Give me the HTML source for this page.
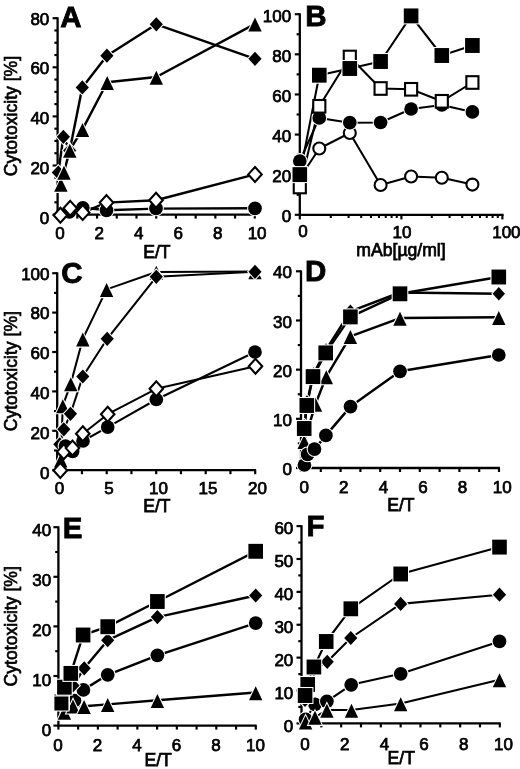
<!DOCTYPE html>
<html><head><meta charset="utf-8"><title>Cytotoxicity figure</title>
<style>
html,body{margin:0;padding:0;background:#fff;}
body{width:520px;height:769px;overflow:hidden;}
svg{display:block;filter:grayscale(1);}
text{font-family:"Liberation Sans", sans-serif;fill:#000;}
</style></head>
<body>
<svg width="520" height="769" viewBox="0 0 520 769" stroke="#000" stroke-linecap="butt">
<rect x="0" y="0" width="520" height="769" fill="#fff" stroke="none"/>
<line x1="57.6" y1="17.3" x2="57.6" y2="215.5" stroke-width="2.3"/>
<line x1="52.6" y1="214.6" x2="57.6" y2="214.6" stroke-width="2.18"/>
<line x1="54.4" y1="202.32" x2="57.6" y2="202.32" stroke-width="2.18"/>
<line x1="54.4" y1="190.05" x2="57.6" y2="190.05" stroke-width="2.18"/>
<line x1="54.4" y1="177.77" x2="57.6" y2="177.77" stroke-width="2.18"/>
<line x1="52.6" y1="165.5" x2="57.6" y2="165.5" stroke-width="2.18"/>
<line x1="54.4" y1="153.22" x2="57.6" y2="153.22" stroke-width="2.18"/>
<line x1="54.4" y1="140.95" x2="57.6" y2="140.95" stroke-width="2.18"/>
<line x1="54.4" y1="128.68" x2="57.6" y2="128.68" stroke-width="2.18"/>
<line x1="52.6" y1="116.4" x2="57.6" y2="116.4" stroke-width="2.18"/>
<line x1="54.4" y1="104.12" x2="57.6" y2="104.12" stroke-width="2.18"/>
<line x1="54.4" y1="91.85" x2="57.6" y2="91.85" stroke-width="2.18"/>
<line x1="54.4" y1="79.57" x2="57.6" y2="79.57" stroke-width="2.18"/>
<line x1="52.6" y1="67.3" x2="57.6" y2="67.3" stroke-width="2.18"/>
<line x1="54.4" y1="55.02" x2="57.6" y2="55.02" stroke-width="2.18"/>
<line x1="54.4" y1="42.75" x2="57.6" y2="42.75" stroke-width="2.18"/>
<line x1="54.4" y1="30.47" x2="57.6" y2="30.47" stroke-width="2.18"/>
<line x1="52.6" y1="18.2" x2="57.6" y2="18.2" stroke-width="2.18"/>
<text x="49.3" y="224" font-size="17" font-weight="normal" text-anchor="end" stroke="#000" stroke-width="0.75">0</text>
<text x="49.3" y="174.12" font-size="17" font-weight="normal" text-anchor="end" stroke="#000" stroke-width="0.75">20</text>
<text x="49.3" y="124.25" font-size="17" font-weight="normal" text-anchor="end" stroke="#000" stroke-width="0.75">40</text>
<text x="49.3" y="74.38" font-size="17" font-weight="normal" text-anchor="end" stroke="#000" stroke-width="0.75">60</text>
<text x="49.3" y="24.5" font-size="17" font-weight="normal" text-anchor="end" stroke="#000" stroke-width="0.75">80</text>
<line x1="56.7" y1="214.6" x2="255.7" y2="214.6" stroke-width="2.3"/>
<line x1="57.6" y1="214.6" x2="57.6" y2="218.6" stroke-width="2.18"/>
<line x1="77.32" y1="214.6" x2="77.32" y2="218.6" stroke-width="2.18"/>
<line x1="97.04" y1="214.6" x2="97.04" y2="218.6" stroke-width="2.18"/>
<line x1="116.76" y1="214.6" x2="116.76" y2="218.6" stroke-width="2.18"/>
<line x1="136.48" y1="214.6" x2="136.48" y2="218.6" stroke-width="2.18"/>
<line x1="156.2" y1="214.6" x2="156.2" y2="218.6" stroke-width="2.18"/>
<line x1="175.92" y1="214.6" x2="175.92" y2="218.6" stroke-width="2.18"/>
<line x1="195.64" y1="214.6" x2="195.64" y2="218.6" stroke-width="2.18"/>
<line x1="215.36" y1="214.6" x2="215.36" y2="218.6" stroke-width="2.18"/>
<line x1="235.08" y1="214.6" x2="235.08" y2="218.6" stroke-width="2.18"/>
<line x1="254.8" y1="214.6" x2="254.8" y2="218.6" stroke-width="2.18"/>
<text x="59.9" y="238.6" font-size="17" font-weight="normal" text-anchor="middle" stroke="#000" stroke-width="0.75">0</text>
<text x="99.34" y="238.6" font-size="17" font-weight="normal" text-anchor="middle" stroke="#000" stroke-width="0.75">2</text>
<text x="138.78" y="238.6" font-size="17" font-weight="normal" text-anchor="middle" stroke="#000" stroke-width="0.75">4</text>
<text x="178.22" y="238.6" font-size="17" font-weight="normal" text-anchor="middle" stroke="#000" stroke-width="0.75">6</text>
<text x="217.66" y="238.6" font-size="17" font-weight="normal" text-anchor="middle" stroke="#000" stroke-width="0.75">8</text>
<text x="257.1" y="238.6" font-size="17" font-weight="normal" text-anchor="middle" stroke="#000" stroke-width="0.75">10</text>
<text x="60.2" y="27.1" font-size="29.5" font-weight="bold" text-anchor="start" stroke="#000" stroke-width="0.8">A</text>
<text x="156.9" y="257.7" font-size="17.6" text-anchor="middle" stroke="#000" stroke-width="0.75">E/T</text>
<text transform="translate(17.4,116) rotate(-90)" x="0" y="0" font-size="17.6" text-anchor="middle" stroke="#000" stroke-width="0.65">Cytotoxicity [%]</text>
<polyline points="60.5,214 69.5,212 82.8,207.5 106.5,210.3 156,208.6 255,208.3" fill="none" stroke-width="2.45" stroke-linejoin="round"/>
<polyline points="60.4,215.2 70.2,208.3 82.7,212.6 106.5,202.6 156,200.2 255,174.4" fill="none" stroke-width="2.45" stroke-linejoin="round"/>
<polyline points="58.3,172.5 63.4,136.8 69.7,150.5 82.3,87.4 106.9,55.7 156.3,24.3 255,58.8" fill="none" stroke-width="2.45" stroke-linejoin="round"/>
<polyline points="60.9,184.15 64,171.95 69.8,150.1 82.5,129.4 107.2,82.25 156.3,77 255,23.85" fill="none" stroke-width="2.45" stroke-linejoin="round"/>
<path d="M58.3 165.4L64.9 172.5L58.3 179.6L51.7 172.5Z" fill="#000" stroke="#fff" stroke-width="2.1" paint-order="stroke" stroke-linejoin="miter"/>
<path d="M63.4 129.7L70 136.8L63.4 143.9L56.8 136.8Z" fill="#000" stroke="#fff" stroke-width="2.1" paint-order="stroke" stroke-linejoin="miter"/>
<path d="M69.7 143.4L76.3 150.5L69.7 157.6L63.1 150.5Z" fill="#000" stroke="#fff" stroke-width="2.1" paint-order="stroke" stroke-linejoin="miter"/>
<path d="M82.3 80.3L88.9 87.4L82.3 94.5L75.7 87.4Z" fill="#000" stroke="#fff" stroke-width="2.1" paint-order="stroke" stroke-linejoin="miter"/>
<path d="M106.9 48.6L113.5 55.7L106.9 62.8L100.3 55.7Z" fill="#000" stroke="#fff" stroke-width="2.1" paint-order="stroke" stroke-linejoin="miter"/>
<path d="M156.3 17.2L162.9 24.3L156.3 31.4L149.7 24.3Z" fill="#000" stroke="#fff" stroke-width="2.1" paint-order="stroke" stroke-linejoin="miter"/>
<path d="M255 51.7L261.6 58.8L255 65.9L248.4 58.8Z" fill="#000" stroke="#fff" stroke-width="2.1" paint-order="stroke" stroke-linejoin="miter"/>
<path d="M60.9 177.85L67.6 191.85L54.2 191.85Z" fill="#000" stroke="#fff" stroke-width="2.1" paint-order="stroke" stroke-linejoin="miter"/>
<path d="M64 165.65L70.7 179.65L57.3 179.65Z" fill="#000" stroke="#fff" stroke-width="2.1" paint-order="stroke" stroke-linejoin="miter"/>
<path d="M69.8 143.8L76.5 157.8L63.1 157.8Z" fill="#000" stroke="#fff" stroke-width="2.1" paint-order="stroke" stroke-linejoin="miter"/>
<path d="M82.5 123.1L89.2 137.1L75.8 137.1Z" fill="#000" stroke="#fff" stroke-width="2.1" paint-order="stroke" stroke-linejoin="miter"/>
<path d="M107.2 75.95L113.9 89.95L100.5 89.95Z" fill="#000" stroke="#fff" stroke-width="2.1" paint-order="stroke" stroke-linejoin="miter"/>
<path d="M156.3 70.7L163 84.7L149.6 84.7Z" fill="#000" stroke="#fff" stroke-width="2.1" paint-order="stroke" stroke-linejoin="miter"/>
<path d="M255 17.55L261.7 31.55L248.3 31.55Z" fill="#000" stroke="#fff" stroke-width="2.1" paint-order="stroke" stroke-linejoin="miter"/>
<circle cx="69.3" cy="212" r="6.85" fill="#000" stroke="#fff" stroke-width="2.1" paint-order="stroke" stroke-linejoin="miter"/>
<circle cx="82.8" cy="207.8" r="6.85" fill="#000" stroke="#fff" stroke-width="2.1" paint-order="stroke" stroke-linejoin="miter"/>
<circle cx="106.5" cy="210.3" r="6.85" fill="#000" stroke="#fff" stroke-width="2.1" paint-order="stroke" stroke-linejoin="miter"/>
<circle cx="156" cy="208.4" r="6.85" fill="#000" stroke="#fff" stroke-width="2.1" paint-order="stroke" stroke-linejoin="miter"/>
<circle cx="255" cy="208.3" r="6.85" fill="#000" stroke="#fff" stroke-width="2.1" paint-order="stroke" stroke-linejoin="miter"/>
<path d="M60.4 207.75L67.15 215.2L60.4 222.65L53.65 215.2Z" fill="#fff" stroke="#000" stroke-width="2.1" stroke-linejoin="miter"/>
<path d="M70.2 200.85L76.95 208.3L70.2 215.75L63.45 208.3Z" fill="#fff" stroke="#000" stroke-width="2.1" stroke-linejoin="miter"/>
<path d="M82.7 205.15L89.45 212.6L82.7 220.05L75.95 212.6Z" fill="#fff" stroke="#000" stroke-width="2.1" stroke-linejoin="miter"/>
<path d="M106.5 195.15L113.25 202.6L106.5 210.05L99.75 202.6Z" fill="#fff" stroke="#000" stroke-width="2.1" stroke-linejoin="miter"/>
<path d="M156 192.75L162.75 200.2L156 207.65L149.25 200.2Z" fill="#fff" stroke="#000" stroke-width="2.1" stroke-linejoin="miter"/>
<path d="M255 166.95L261.75 174.4L255 181.85L248.25 174.4Z" fill="#fff" stroke="#000" stroke-width="2.1" stroke-linejoin="miter"/>
<line x1="299.8" y1="13.3" x2="299.8" y2="215.7" stroke-width="2.3"/>
<line x1="294.8" y1="214.8" x2="299.8" y2="214.8" stroke-width="2.18"/>
<line x1="296.6" y1="194.74" x2="299.8" y2="194.74" stroke-width="2.18"/>
<line x1="294.8" y1="174.68" x2="299.8" y2="174.68" stroke-width="2.18"/>
<line x1="296.6" y1="154.62" x2="299.8" y2="154.62" stroke-width="2.18"/>
<line x1="294.8" y1="134.56" x2="299.8" y2="134.56" stroke-width="2.18"/>
<line x1="296.6" y1="114.5" x2="299.8" y2="114.5" stroke-width="2.18"/>
<line x1="294.8" y1="94.44" x2="299.8" y2="94.44" stroke-width="2.18"/>
<line x1="296.6" y1="74.38" x2="299.8" y2="74.38" stroke-width="2.18"/>
<line x1="294.8" y1="54.32" x2="299.8" y2="54.32" stroke-width="2.18"/>
<line x1="296.6" y1="34.26" x2="299.8" y2="34.26" stroke-width="2.18"/>
<line x1="294.8" y1="14.2" x2="299.8" y2="14.2" stroke-width="2.18"/>
<text x="291.1" y="222.3" font-size="17" font-weight="normal" text-anchor="end" stroke="#000" stroke-width="0.75">0</text>
<text x="291.1" y="182.28" font-size="17" font-weight="normal" text-anchor="end" stroke="#000" stroke-width="0.75">20</text>
<text x="291.1" y="142.26" font-size="17" font-weight="normal" text-anchor="end" stroke="#000" stroke-width="0.75">40</text>
<text x="291.1" y="102.24" font-size="17" font-weight="normal" text-anchor="end" stroke="#000" stroke-width="0.75">60</text>
<text x="291.1" y="62.22" font-size="17" font-weight="normal" text-anchor="end" stroke="#000" stroke-width="0.75">80</text>
<text x="291.1" y="22.2" font-size="17" font-weight="normal" text-anchor="end" stroke="#000" stroke-width="0.75">100</text>
<line x1="298.9" y1="214.8" x2="503.6" y2="214.8" stroke-width="2.3"/>
<line x1="299.8" y1="214.8" x2="299.8" y2="219.4" stroke-width="2.18"/>
<line x1="330.8" y1="214.8" x2="330.8" y2="218" stroke-width="2.07"/>
<line x1="348.59" y1="214.8" x2="348.59" y2="218" stroke-width="2.07"/>
<line x1="361.21" y1="214.8" x2="361.21" y2="218" stroke-width="2.07"/>
<line x1="371" y1="214.8" x2="371" y2="218" stroke-width="2.07"/>
<line x1="378.99" y1="214.8" x2="378.99" y2="218" stroke-width="2.07"/>
<line x1="385.75" y1="214.8" x2="385.75" y2="218" stroke-width="2.07"/>
<line x1="391.61" y1="214.8" x2="391.61" y2="218" stroke-width="2.07"/>
<line x1="396.78" y1="214.8" x2="396.78" y2="218" stroke-width="2.07"/>
<line x1="431.8" y1="214.8" x2="431.8" y2="218" stroke-width="2.07"/>
<line x1="449.59" y1="214.8" x2="449.59" y2="218" stroke-width="2.07"/>
<line x1="462.21" y1="214.8" x2="462.21" y2="218" stroke-width="2.07"/>
<line x1="472" y1="214.8" x2="472" y2="218" stroke-width="2.07"/>
<line x1="479.99" y1="214.8" x2="479.99" y2="218" stroke-width="2.07"/>
<line x1="486.75" y1="214.8" x2="486.75" y2="218" stroke-width="2.07"/>
<line x1="492.61" y1="214.8" x2="492.61" y2="218" stroke-width="2.07"/>
<line x1="497.78" y1="214.8" x2="497.78" y2="218" stroke-width="2.07"/>
<line x1="401.4" y1="214.8" x2="401.4" y2="219.4" stroke-width="2.18"/>
<line x1="502.4" y1="214.8" x2="502.4" y2="219.4" stroke-width="2.18"/>
<text x="302.9" y="237.2" font-size="17" font-weight="normal" text-anchor="middle" stroke="#000" stroke-width="0.75">0</text>
<text x="401.9" y="237.5" font-size="17" font-weight="normal" text-anchor="middle" stroke="#000" stroke-width="0.75">10</text>
<text x="506.4" y="237.5" font-size="17" font-weight="normal" text-anchor="middle" stroke="#000" stroke-width="0.75">100</text>
<text x="305.3" y="26.4" font-size="29.5" font-weight="bold" text-anchor="start" stroke="#000" stroke-width="0.8">B</text>
<text x="401" y="255.5" font-size="17.6" text-anchor="middle" stroke="#000" stroke-width="0.75">mAb[µg/ml]</text>
<polyline points="299.8,178 319.3,148.5 349.8,133 380.6,185 411.1,176.5 441.8,177.7 472.4,184.6" fill="none" stroke-width="2.05" stroke-linejoin="round"/>
<polyline points="299.8,161 319.3,117.9 349.8,122.7 380.6,122.5 411.1,109 441.8,105 472.4,111.9" fill="none" stroke-width="2.05" stroke-linejoin="round"/>
<polyline points="299.8,187 319.3,106.3 349.8,57 380.6,88.5 411.1,89.3 441.8,101.3 472.4,82.5" fill="none" stroke-width="2.05" stroke-linejoin="round"/>
<polyline points="299.8,174.6 319.3,75.2 349.8,68.5 380.6,61.5 411.1,15.9 441.8,55.5 472.4,45.5" fill="none" stroke-width="2.05" stroke-linejoin="round"/>
<circle cx="319.3" cy="148.5" r="6" fill="#fff" stroke="#000" stroke-width="2.1" stroke-linejoin="miter"/>
<circle cx="349.8" cy="133" r="6" fill="#fff" stroke="#000" stroke-width="2.1" stroke-linejoin="miter"/>
<circle cx="380.6" cy="185" r="6" fill="#fff" stroke="#000" stroke-width="2.1" stroke-linejoin="miter"/>
<circle cx="411.1" cy="176.5" r="6" fill="#fff" stroke="#000" stroke-width="2.1" stroke-linejoin="miter"/>
<circle cx="441.8" cy="177.7" r="6" fill="#fff" stroke="#000" stroke-width="2.1" stroke-linejoin="miter"/>
<circle cx="472.4" cy="184.6" r="6" fill="#fff" stroke="#000" stroke-width="2.1" stroke-linejoin="miter"/>
<circle cx="299.8" cy="161" r="6.85" fill="#000" stroke="#fff" stroke-width="2.1" paint-order="stroke" stroke-linejoin="miter"/>
<circle cx="319.3" cy="117.9" r="6.85" fill="#000" stroke="#fff" stroke-width="2.1" paint-order="stroke" stroke-linejoin="miter"/>
<circle cx="349.8" cy="122.7" r="6.85" fill="#000" stroke="#fff" stroke-width="2.1" paint-order="stroke" stroke-linejoin="miter"/>
<circle cx="380.6" cy="122.5" r="6.85" fill="#000" stroke="#fff" stroke-width="2.1" paint-order="stroke" stroke-linejoin="miter"/>
<circle cx="411.1" cy="109" r="6.85" fill="#000" stroke="#fff" stroke-width="2.1" paint-order="stroke" stroke-linejoin="miter"/>
<circle cx="441.8" cy="105" r="6.85" fill="#000" stroke="#fff" stroke-width="2.1" paint-order="stroke" stroke-linejoin="miter"/>
<circle cx="472.4" cy="111.9" r="6.85" fill="#000" stroke="#fff" stroke-width="2.1" paint-order="stroke" stroke-linejoin="miter"/>
<rect x="293.75" y="180.7" width="12.1" height="12.6" fill="#fff" stroke="#000" stroke-width="2.1" stroke-linejoin="miter"/>
<rect x="313.25" y="100" width="12.1" height="12.6" fill="#fff" stroke="#000" stroke-width="2.1" stroke-linejoin="miter"/>
<rect x="343.75" y="50.7" width="12.1" height="12.6" fill="#fff" stroke="#000" stroke-width="2.1" stroke-linejoin="miter"/>
<rect x="374.55" y="82.2" width="12.1" height="12.6" fill="#fff" stroke="#000" stroke-width="2.1" stroke-linejoin="miter"/>
<rect x="405.05" y="83" width="12.1" height="12.6" fill="#fff" stroke="#000" stroke-width="2.1" stroke-linejoin="miter"/>
<rect x="435.75" y="95" width="12.1" height="12.6" fill="#fff" stroke="#000" stroke-width="2.1" stroke-linejoin="miter"/>
<rect x="466.35" y="76.2" width="12.1" height="12.6" fill="#fff" stroke="#000" stroke-width="2.1" stroke-linejoin="miter"/>
<rect x="292.5" y="167.15" width="14.6" height="14.9" fill="#000" stroke="#fff" stroke-width="2.1" paint-order="stroke" stroke-linejoin="miter"/>
<rect x="312" y="67.75" width="14.6" height="14.9" fill="#000" stroke="#fff" stroke-width="2.1" paint-order="stroke" stroke-linejoin="miter"/>
<rect x="342.5" y="61.05" width="14.6" height="14.9" fill="#000" stroke="#fff" stroke-width="2.1" paint-order="stroke" stroke-linejoin="miter"/>
<rect x="373.3" y="54.05" width="14.6" height="14.9" fill="#000" stroke="#fff" stroke-width="2.1" paint-order="stroke" stroke-linejoin="miter"/>
<rect x="403.8" y="8.45" width="14.6" height="14.9" fill="#000" stroke="#fff" stroke-width="2.1" paint-order="stroke" stroke-linejoin="miter"/>
<rect x="434.5" y="48.05" width="14.6" height="14.9" fill="#000" stroke="#fff" stroke-width="2.1" paint-order="stroke" stroke-linejoin="miter"/>
<rect x="465.1" y="38.05" width="14.6" height="14.9" fill="#000" stroke="#fff" stroke-width="2.1" paint-order="stroke" stroke-linejoin="miter"/>
<line x1="57.2" y1="272.3" x2="57.2" y2="471.1" stroke-width="2.3"/>
<line x1="52.2" y1="470.2" x2="57.2" y2="470.2" stroke-width="2.18"/>
<line x1="54" y1="450.5" x2="57.2" y2="450.5" stroke-width="2.18"/>
<line x1="52.2" y1="430.8" x2="57.2" y2="430.8" stroke-width="2.18"/>
<line x1="54" y1="411.1" x2="57.2" y2="411.1" stroke-width="2.18"/>
<line x1="52.2" y1="391.4" x2="57.2" y2="391.4" stroke-width="2.18"/>
<line x1="54" y1="371.7" x2="57.2" y2="371.7" stroke-width="2.18"/>
<line x1="52.2" y1="352" x2="57.2" y2="352" stroke-width="2.18"/>
<line x1="54" y1="332.3" x2="57.2" y2="332.3" stroke-width="2.18"/>
<line x1="52.2" y1="312.6" x2="57.2" y2="312.6" stroke-width="2.18"/>
<line x1="54" y1="292.9" x2="57.2" y2="292.9" stroke-width="2.18"/>
<line x1="52.2" y1="273.2" x2="57.2" y2="273.2" stroke-width="2.18"/>
<text x="49.5" y="478.5" font-size="17" font-weight="normal" text-anchor="end" stroke="#000" stroke-width="0.75">0</text>
<text x="49.5" y="438.7" font-size="17" font-weight="normal" text-anchor="end" stroke="#000" stroke-width="0.75">20</text>
<text x="49.5" y="398.9" font-size="17" font-weight="normal" text-anchor="end" stroke="#000" stroke-width="0.75">40</text>
<text x="49.5" y="359.1" font-size="17" font-weight="normal" text-anchor="end" stroke="#000" stroke-width="0.75">60</text>
<text x="49.5" y="319.3" font-size="17" font-weight="normal" text-anchor="end" stroke="#000" stroke-width="0.75">80</text>
<text x="49.5" y="279.5" font-size="17" font-weight="normal" text-anchor="end" stroke="#000" stroke-width="0.75">100</text>
<line x1="56.3" y1="470.2" x2="256.1" y2="470.2" stroke-width="2.3"/>
<line x1="57.2" y1="470.2" x2="57.2" y2="474.2" stroke-width="2.18"/>
<line x1="81.95" y1="470.2" x2="81.95" y2="474.2" stroke-width="2.18"/>
<line x1="106.7" y1="470.2" x2="106.7" y2="474.2" stroke-width="2.18"/>
<line x1="131.45" y1="470.2" x2="131.45" y2="474.2" stroke-width="2.18"/>
<line x1="156.2" y1="470.2" x2="156.2" y2="474.2" stroke-width="2.18"/>
<line x1="180.95" y1="470.2" x2="180.95" y2="474.2" stroke-width="2.18"/>
<line x1="205.7" y1="470.2" x2="205.7" y2="474.2" stroke-width="2.18"/>
<line x1="230.45" y1="470.2" x2="230.45" y2="474.2" stroke-width="2.18"/>
<line x1="255.2" y1="470.2" x2="255.2" y2="474.2" stroke-width="2.18"/>
<text x="59.5" y="494.4" font-size="17" font-weight="normal" text-anchor="middle" stroke="#000" stroke-width="0.75">0</text>
<text x="109" y="494.4" font-size="17" font-weight="normal" text-anchor="middle" stroke="#000" stroke-width="0.75">5</text>
<text x="158.5" y="494.4" font-size="17" font-weight="normal" text-anchor="middle" stroke="#000" stroke-width="0.75">10</text>
<text x="208" y="494.4" font-size="17" font-weight="normal" text-anchor="middle" stroke="#000" stroke-width="0.75">15</text>
<text x="257.5" y="494.4" font-size="17" font-weight="normal" text-anchor="middle" stroke="#000" stroke-width="0.75">20</text>
<text x="61.2" y="282.6" font-size="29.5" font-weight="bold" text-anchor="start" stroke="#000" stroke-width="0.8">C</text>
<text x="156.9" y="511.6" font-size="17.6" text-anchor="middle" stroke="#000" stroke-width="0.75">E/T</text>
<text transform="translate(17.4,371.2) rotate(-90)" x="0" y="0" font-size="17.6" text-anchor="middle" stroke="#000" stroke-width="0.65">Cytotoxicity [%]</text>
<polyline points="60.8,459.8 62.8,405.55 70.8,383.6 82.8,338.9 106.6,289.4 156.3,272.05 255,271.5" fill="none" stroke-width="2.05" stroke-linejoin="round"/>
<polyline points="59.8,444.3 63.8,429.3 70.5,413.8 82.8,376.5 107.2,338.8 156.3,276.8 255,271.8" fill="none" stroke-width="2.05" stroke-linejoin="round"/>
<polyline points="65.5,446 72.6,451.5 83,441 107.7,427.1 156.3,399.5 255,352" fill="none" stroke-width="2.05" stroke-linejoin="round"/>
<polyline points="60.3,470.4 63.8,451.7 72.5,448.1 82.8,433.7 107.7,414.2 156.3,388.8 255.5,366.3" fill="none" stroke-width="2.05" stroke-linejoin="round"/>
<path d="M60.8 453.5L67.5 467.5L54.1 467.5Z" fill="#000" stroke="#fff" stroke-width="2.1" paint-order="stroke" stroke-linejoin="miter"/>
<path d="M62.8 399.25L69.5 413.25L56.1 413.25Z" fill="#000" stroke="#fff" stroke-width="2.1" paint-order="stroke" stroke-linejoin="miter"/>
<path d="M70.8 377.3L77.5 391.3L64.1 391.3Z" fill="#000" stroke="#fff" stroke-width="2.1" paint-order="stroke" stroke-linejoin="miter"/>
<path d="M82.8 332.6L89.5 346.6L76.1 346.6Z" fill="#000" stroke="#fff" stroke-width="2.1" paint-order="stroke" stroke-linejoin="miter"/>
<path d="M106.6 283.1L113.3 297.1L99.9 297.1Z" fill="#000" stroke="#fff" stroke-width="2.1" paint-order="stroke" stroke-linejoin="miter"/>
<path d="M156.3 265.75L163 279.75L149.6 279.75Z" fill="#000" stroke="#fff" stroke-width="2.1" paint-order="stroke" stroke-linejoin="miter"/>
<path d="M255 265.2L261.7 279.2L248.3 279.2Z" fill="#000" stroke="#fff" stroke-width="2.1" paint-order="stroke" stroke-linejoin="miter"/>
<path d="M59.8 437.2L66.4 444.3L59.8 451.4L53.2 444.3Z" fill="#000" stroke="#fff" stroke-width="2.1" paint-order="stroke" stroke-linejoin="miter"/>
<path d="M63.8 422.2L70.4 429.3L63.8 436.4L57.2 429.3Z" fill="#000" stroke="#fff" stroke-width="2.1" paint-order="stroke" stroke-linejoin="miter"/>
<path d="M70.5 406.7L77.1 413.8L70.5 420.9L63.9 413.8Z" fill="#000" stroke="#fff" stroke-width="2.1" paint-order="stroke" stroke-linejoin="miter"/>
<path d="M82.8 369.4L89.4 376.5L82.8 383.6L76.2 376.5Z" fill="#000" stroke="#fff" stroke-width="2.1" paint-order="stroke" stroke-linejoin="miter"/>
<path d="M107.2 331.7L113.8 338.8L107.2 345.9L100.6 338.8Z" fill="#000" stroke="#fff" stroke-width="2.1" paint-order="stroke" stroke-linejoin="miter"/>
<path d="M156.3 269.7L162.9 276.8L156.3 283.9L149.7 276.8Z" fill="#000" stroke="#fff" stroke-width="2.1" paint-order="stroke" stroke-linejoin="miter"/>
<path d="M255 264.7L261.6 271.8L255 278.9L248.4 271.8Z" fill="#000" stroke="#fff" stroke-width="2.1" paint-order="stroke" stroke-linejoin="miter"/>
<circle cx="65.5" cy="446" r="6.85" fill="#000" stroke="#fff" stroke-width="2.1" paint-order="stroke" stroke-linejoin="miter"/>
<circle cx="72.6" cy="451.5" r="6.85" fill="#000" stroke="#fff" stroke-width="2.1" paint-order="stroke" stroke-linejoin="miter"/>
<circle cx="83" cy="441" r="6.85" fill="#000" stroke="#fff" stroke-width="2.1" paint-order="stroke" stroke-linejoin="miter"/>
<circle cx="107.7" cy="427.1" r="6.85" fill="#000" stroke="#fff" stroke-width="2.1" paint-order="stroke" stroke-linejoin="miter"/>
<circle cx="156.3" cy="399.5" r="6.85" fill="#000" stroke="#fff" stroke-width="2.1" paint-order="stroke" stroke-linejoin="miter"/>
<circle cx="255" cy="352" r="6.85" fill="#000" stroke="#fff" stroke-width="2.1" paint-order="stroke" stroke-linejoin="miter"/>
<path d="M60.3 462.95L67.05 470.4L60.3 477.85L53.55 470.4Z" fill="#fff" stroke="#000" stroke-width="2.1" stroke-linejoin="miter"/>
<path d="M63.8 444.25L70.55 451.7L63.8 459.15L57.05 451.7Z" fill="#fff" stroke="#000" stroke-width="2.1" stroke-linejoin="miter"/>
<path d="M72.5 440.65L79.25 448.1L72.5 455.55L65.75 448.1Z" fill="#fff" stroke="#000" stroke-width="2.1" stroke-linejoin="miter"/>
<path d="M82.8 426.25L89.55 433.7L82.8 441.15L76.05 433.7Z" fill="#fff" stroke="#000" stroke-width="2.1" stroke-linejoin="miter"/>
<path d="M107.7 406.75L114.45 414.2L107.7 421.65L100.95 414.2Z" fill="#fff" stroke="#000" stroke-width="2.1" stroke-linejoin="miter"/>
<path d="M156.3 381.35L163.05 388.8L156.3 396.25L149.55 388.8Z" fill="#fff" stroke="#000" stroke-width="2.1" stroke-linejoin="miter"/>
<path d="M255.5 358.85L262.25 366.3L255.5 373.75L248.75 366.3Z" fill="#fff" stroke="#000" stroke-width="2.1" stroke-linejoin="miter"/>
<line x1="301" y1="270.4" x2="301" y2="468.9" stroke-width="2.3"/>
<line x1="296" y1="468" x2="301" y2="468" stroke-width="2.18"/>
<line x1="297.8" y1="443.41" x2="301" y2="443.41" stroke-width="2.18"/>
<line x1="296" y1="418.82" x2="301" y2="418.82" stroke-width="2.18"/>
<line x1="297.8" y1="394.24" x2="301" y2="394.24" stroke-width="2.18"/>
<line x1="296" y1="369.65" x2="301" y2="369.65" stroke-width="2.18"/>
<line x1="297.8" y1="345.06" x2="301" y2="345.06" stroke-width="2.18"/>
<line x1="296" y1="320.48" x2="301" y2="320.48" stroke-width="2.18"/>
<line x1="297.8" y1="295.89" x2="301" y2="295.89" stroke-width="2.18"/>
<line x1="296" y1="271.3" x2="301" y2="271.3" stroke-width="2.18"/>
<text x="291.9" y="475.2" font-size="17" font-weight="normal" text-anchor="end" stroke="#000" stroke-width="0.75">0</text>
<text x="291.9" y="425.98" font-size="17" font-weight="normal" text-anchor="end" stroke="#000" stroke-width="0.75">10</text>
<text x="291.9" y="376.75" font-size="17" font-weight="normal" text-anchor="end" stroke="#000" stroke-width="0.75">20</text>
<text x="291.9" y="327.52" font-size="17" font-weight="normal" text-anchor="end" stroke="#000" stroke-width="0.75">30</text>
<text x="291.9" y="278.3" font-size="17" font-weight="normal" text-anchor="end" stroke="#000" stroke-width="0.75">40</text>
<line x1="300.1" y1="468" x2="499.9" y2="468" stroke-width="2.3"/>
<line x1="301" y1="468" x2="301" y2="472" stroke-width="2.18"/>
<line x1="320.8" y1="468" x2="320.8" y2="472" stroke-width="2.18"/>
<line x1="340.6" y1="468" x2="340.6" y2="472" stroke-width="2.18"/>
<line x1="360.4" y1="468" x2="360.4" y2="472" stroke-width="2.18"/>
<line x1="380.2" y1="468" x2="380.2" y2="472" stroke-width="2.18"/>
<line x1="400" y1="468" x2="400" y2="472" stroke-width="2.18"/>
<line x1="419.8" y1="468" x2="419.8" y2="472" stroke-width="2.18"/>
<line x1="439.6" y1="468" x2="439.6" y2="472" stroke-width="2.18"/>
<line x1="459.4" y1="468" x2="459.4" y2="472" stroke-width="2.18"/>
<line x1="479.2" y1="468" x2="479.2" y2="472" stroke-width="2.18"/>
<line x1="499" y1="468" x2="499" y2="472" stroke-width="2.18"/>
<text x="304.2" y="492.7" font-size="17" font-weight="normal" text-anchor="middle" stroke="#000" stroke-width="0.75">0</text>
<text x="343.8" y="492.7" font-size="17" font-weight="normal" text-anchor="middle" stroke="#000" stroke-width="0.75">2</text>
<text x="383.4" y="492.7" font-size="17" font-weight="normal" text-anchor="middle" stroke="#000" stroke-width="0.75">4</text>
<text x="423" y="492.7" font-size="17" font-weight="normal" text-anchor="middle" stroke="#000" stroke-width="0.75">6</text>
<text x="462.6" y="492.7" font-size="17" font-weight="normal" text-anchor="middle" stroke="#000" stroke-width="0.75">8</text>
<text x="502.2" y="492.7" font-size="17" font-weight="normal" text-anchor="middle" stroke="#000" stroke-width="0.75">10</text>
<text x="305" y="281" font-size="29.5" font-weight="bold" text-anchor="start" stroke="#000" stroke-width="0.8">D</text>
<text x="400.9" y="510.5" font-size="17.6" text-anchor="middle" stroke="#000" stroke-width="0.75">E/T</text>
<polyline points="304.2,441.35 315.5,404.05 326.3,376.55 350.4,336.4 400,318.05 498.8,317.25" fill="none" stroke-width="2.45" stroke-linejoin="round"/>
<polyline points="304.5,426 307,402 313.5,374 326,350 350.4,311.3 400,292.5 498.8,293.8" fill="none" stroke-width="2.45" stroke-linejoin="round"/>
<polyline points="304.2,428.5 306.8,405.5 313,376.6 325.7,352.9 350.4,316.9 400,293.8 498.8,277" fill="none" stroke-width="2.45" stroke-linejoin="round"/>
<polyline points="304.4,465 307.6,454.4 314.5,449.1 325.9,435.4 350.5,406.6 400,371.3 498.8,355" fill="none" stroke-width="2.45" stroke-linejoin="round"/>
<path d="M304.2 435.05L310.9 449.05L297.5 449.05Z" fill="#000" stroke="#fff" stroke-width="2.1" paint-order="stroke" stroke-linejoin="miter"/>
<path d="M315.5 397.75L322.2 411.75L308.8 411.75Z" fill="#000" stroke="#fff" stroke-width="2.1" paint-order="stroke" stroke-linejoin="miter"/>
<path d="M326.3 370.25L333 384.25L319.6 384.25Z" fill="#000" stroke="#fff" stroke-width="2.1" paint-order="stroke" stroke-linejoin="miter"/>
<path d="M350.4 330.1L357.1 344.1L343.7 344.1Z" fill="#000" stroke="#fff" stroke-width="2.1" paint-order="stroke" stroke-linejoin="miter"/>
<path d="M400 311.75L406.7 325.75L393.3 325.75Z" fill="#000" stroke="#fff" stroke-width="2.1" paint-order="stroke" stroke-linejoin="miter"/>
<path d="M498.8 310.95L505.5 324.95L492.1 324.95Z" fill="#000" stroke="#fff" stroke-width="2.1" paint-order="stroke" stroke-linejoin="miter"/>
<path d="M304.5 419.3L310.7 426L304.5 432.7L298.3 426Z" fill="#000" stroke="#fff" stroke-width="2.1" paint-order="stroke" stroke-linejoin="miter"/>
<path d="M307 395.3L313.2 402L307 408.7L300.8 402Z" fill="#000" stroke="#fff" stroke-width="2.1" paint-order="stroke" stroke-linejoin="miter"/>
<path d="M313.5 367.3L319.7 374L313.5 380.7L307.3 374Z" fill="#000" stroke="#fff" stroke-width="2.1" paint-order="stroke" stroke-linejoin="miter"/>
<path d="M326 343.3L332.2 350L326 356.7L319.8 350Z" fill="#000" stroke="#fff" stroke-width="2.1" paint-order="stroke" stroke-linejoin="miter"/>
<path d="M350.4 304.6L356.6 311.3L350.4 318L344.2 311.3Z" fill="#000" stroke="#fff" stroke-width="2.1" paint-order="stroke" stroke-linejoin="miter"/>
<path d="M400 285.8L406.2 292.5L400 299.2L393.8 292.5Z" fill="#000" stroke="#fff" stroke-width="2.1" paint-order="stroke" stroke-linejoin="miter"/>
<path d="M498.8 287.1L505 293.8L498.8 300.5L492.6 293.8Z" fill="#000" stroke="#fff" stroke-width="2.1" paint-order="stroke" stroke-linejoin="miter"/>
<rect x="296.9" y="421.05" width="14.6" height="14.9" fill="#000" stroke="#fff" stroke-width="2.1" paint-order="stroke" stroke-linejoin="miter"/>
<rect x="299.5" y="398.05" width="14.6" height="14.9" fill="#000" stroke="#fff" stroke-width="2.1" paint-order="stroke" stroke-linejoin="miter"/>
<rect x="305.7" y="369.15" width="14.6" height="14.9" fill="#000" stroke="#fff" stroke-width="2.1" paint-order="stroke" stroke-linejoin="miter"/>
<rect x="318.4" y="345.45" width="14.6" height="14.9" fill="#000" stroke="#fff" stroke-width="2.1" paint-order="stroke" stroke-linejoin="miter"/>
<rect x="343.1" y="309.45" width="14.6" height="14.9" fill="#000" stroke="#fff" stroke-width="2.1" paint-order="stroke" stroke-linejoin="miter"/>
<rect x="392.7" y="286.35" width="14.6" height="14.9" fill="#000" stroke="#fff" stroke-width="2.1" paint-order="stroke" stroke-linejoin="miter"/>
<rect x="491.5" y="269.55" width="14.6" height="14.9" fill="#000" stroke="#fff" stroke-width="2.1" paint-order="stroke" stroke-linejoin="miter"/>
<circle cx="304.4" cy="465" r="6.85" fill="#000" stroke="#fff" stroke-width="2.1" paint-order="stroke" stroke-linejoin="miter"/>
<circle cx="307.6" cy="454.4" r="6.85" fill="#000" stroke="#fff" stroke-width="2.1" paint-order="stroke" stroke-linejoin="miter"/>
<circle cx="314.5" cy="449.1" r="6.85" fill="#000" stroke="#fff" stroke-width="2.1" paint-order="stroke" stroke-linejoin="miter"/>
<circle cx="325.9" cy="435.4" r="6.85" fill="#000" stroke="#fff" stroke-width="2.1" paint-order="stroke" stroke-linejoin="miter"/>
<circle cx="350.5" cy="406.6" r="6.85" fill="#000" stroke="#fff" stroke-width="2.1" paint-order="stroke" stroke-linejoin="miter"/>
<circle cx="400" cy="371.3" r="6.85" fill="#000" stroke="#fff" stroke-width="2.1" paint-order="stroke" stroke-linejoin="miter"/>
<circle cx="498.8" cy="355" r="6.85" fill="#000" stroke="#fff" stroke-width="2.1" paint-order="stroke" stroke-linejoin="miter"/>
<line x1="58.4" y1="526.3" x2="58.4" y2="726.5" stroke-width="2.3"/>
<line x1="53.4" y1="725.6" x2="58.4" y2="725.6" stroke-width="2.18"/>
<line x1="55.2" y1="700.8" x2="58.4" y2="700.8" stroke-width="2.18"/>
<line x1="53.4" y1="676" x2="58.4" y2="676" stroke-width="2.18"/>
<line x1="55.2" y1="651.2" x2="58.4" y2="651.2" stroke-width="2.18"/>
<line x1="53.4" y1="626.4" x2="58.4" y2="626.4" stroke-width="2.18"/>
<line x1="55.2" y1="601.6" x2="58.4" y2="601.6" stroke-width="2.18"/>
<line x1="53.4" y1="576.8" x2="58.4" y2="576.8" stroke-width="2.18"/>
<line x1="55.2" y1="552" x2="58.4" y2="552" stroke-width="2.18"/>
<line x1="53.4" y1="527.2" x2="58.4" y2="527.2" stroke-width="2.18"/>
<text x="51.1" y="735.6" font-size="17" font-weight="normal" text-anchor="end" stroke="#000" stroke-width="0.75">0</text>
<text x="51.1" y="685.7" font-size="17" font-weight="normal" text-anchor="end" stroke="#000" stroke-width="0.75">10</text>
<text x="51.1" y="635.8" font-size="17" font-weight="normal" text-anchor="end" stroke="#000" stroke-width="0.75">20</text>
<text x="51.1" y="585.9" font-size="17" font-weight="normal" text-anchor="end" stroke="#000" stroke-width="0.75">30</text>
<text x="51.1" y="536" font-size="17" font-weight="normal" text-anchor="end" stroke="#000" stroke-width="0.75">40</text>
<line x1="57.5" y1="725.6" x2="256.7" y2="725.6" stroke-width="2.3"/>
<line x1="58.4" y1="725.6" x2="58.4" y2="729.6" stroke-width="2.18"/>
<line x1="78.14" y1="725.6" x2="78.14" y2="729.6" stroke-width="2.18"/>
<line x1="97.88" y1="725.6" x2="97.88" y2="729.6" stroke-width="2.18"/>
<line x1="117.62" y1="725.6" x2="117.62" y2="729.6" stroke-width="2.18"/>
<line x1="137.36" y1="725.6" x2="137.36" y2="729.6" stroke-width="2.18"/>
<line x1="157.1" y1="725.6" x2="157.1" y2="729.6" stroke-width="2.18"/>
<line x1="176.84" y1="725.6" x2="176.84" y2="729.6" stroke-width="2.18"/>
<line x1="196.58" y1="725.6" x2="196.58" y2="729.6" stroke-width="2.18"/>
<line x1="216.32" y1="725.6" x2="216.32" y2="729.6" stroke-width="2.18"/>
<line x1="236.06" y1="725.6" x2="236.06" y2="729.6" stroke-width="2.18"/>
<line x1="255.8" y1="725.6" x2="255.8" y2="729.6" stroke-width="2.18"/>
<text x="58.1" y="751.3" font-size="17" font-weight="normal" text-anchor="middle" stroke="#000" stroke-width="0.75">0</text>
<text x="97.58" y="751.3" font-size="17" font-weight="normal" text-anchor="middle" stroke="#000" stroke-width="0.75">2</text>
<text x="137.06" y="751.3" font-size="17" font-weight="normal" text-anchor="middle" stroke="#000" stroke-width="0.75">4</text>
<text x="176.54" y="751.3" font-size="17" font-weight="normal" text-anchor="middle" stroke="#000" stroke-width="0.75">6</text>
<text x="216.02" y="751.3" font-size="17" font-weight="normal" text-anchor="middle" stroke="#000" stroke-width="0.75">8</text>
<text x="255.5" y="751.3" font-size="17" font-weight="normal" text-anchor="middle" stroke="#000" stroke-width="0.75">10</text>
<text x="62.8" y="538" font-size="29.5" font-weight="bold" text-anchor="start" stroke="#000" stroke-width="0.8">E</text>
<text x="158.1" y="765.5" font-size="17.6" text-anchor="middle" stroke="#000" stroke-width="0.75">E/T</text>
<text transform="translate(17.4,626.3) rotate(-90)" x="0" y="0" font-size="17.6" text-anchor="middle" stroke="#000" stroke-width="0.65">Cytotoxicity [%]</text>
<polyline points="64.4,712.1 73,705.85 84.1,706.25 107.7,704.4 157.4,700.25 255.7,692.45" fill="none" stroke-width="2.45" stroke-linejoin="round"/>
<polyline points="63,704 74.5,700.5 83.4,689.9 107.7,674.8 157.4,655.3 255.7,623.1" fill="none" stroke-width="2.45" stroke-linejoin="round"/>
<polyline points="62,700 73,685.5 84.2,668.3 107.7,640.2 157.4,617.1 255.7,595.5" fill="none" stroke-width="2.45" stroke-linejoin="round"/>
<polyline points="61.6,702 64.4,687.2 70.8,673.4 83.1,635 107.7,626.7 157.4,601.5 255.7,551.3" fill="none" stroke-width="2.45" stroke-linejoin="round"/>
<circle cx="63" cy="704" r="6.85" fill="#000" stroke="#fff" stroke-width="2.1" paint-order="stroke" stroke-linejoin="miter"/>
<circle cx="74.5" cy="700.5" r="6.85" fill="#000" stroke="#fff" stroke-width="2.1" paint-order="stroke" stroke-linejoin="miter"/>
<circle cx="83.4" cy="689.9" r="6.85" fill="#000" stroke="#fff" stroke-width="2.1" paint-order="stroke" stroke-linejoin="miter"/>
<circle cx="107.7" cy="674.8" r="6.85" fill="#000" stroke="#fff" stroke-width="2.1" paint-order="stroke" stroke-linejoin="miter"/>
<circle cx="157.4" cy="655.3" r="6.85" fill="#000" stroke="#fff" stroke-width="2.1" paint-order="stroke" stroke-linejoin="miter"/>
<circle cx="255.7" cy="623.1" r="6.85" fill="#000" stroke="#fff" stroke-width="2.1" paint-order="stroke" stroke-linejoin="miter"/>
<path d="M64.4 705.8L71.1 719.8L57.7 719.8Z" fill="#000" stroke="#fff" stroke-width="2.1" paint-order="stroke" stroke-linejoin="miter"/>
<path d="M73 699.55L79.7 713.55L66.3 713.55Z" fill="#000" stroke="#fff" stroke-width="2.1" paint-order="stroke" stroke-linejoin="miter"/>
<path d="M84.1 699.95L90.8 713.95L77.4 713.95Z" fill="#000" stroke="#fff" stroke-width="2.1" paint-order="stroke" stroke-linejoin="miter"/>
<path d="M107.7 698.1L114.4 712.1L101 712.1Z" fill="#000" stroke="#fff" stroke-width="2.1" paint-order="stroke" stroke-linejoin="miter"/>
<path d="M157.4 693.95L164.1 707.95L150.7 707.95Z" fill="#000" stroke="#fff" stroke-width="2.1" paint-order="stroke" stroke-linejoin="miter"/>
<path d="M255.7 686.15L262.4 700.15L249 700.15Z" fill="#000" stroke="#fff" stroke-width="2.1" paint-order="stroke" stroke-linejoin="miter"/>
<path d="M62 692.9L68.6 700L62 707.1L55.4 700Z" fill="#000" stroke="#fff" stroke-width="2.1" paint-order="stroke" stroke-linejoin="miter"/>
<path d="M73 678.4L79.6 685.5L73 692.6L66.4 685.5Z" fill="#000" stroke="#fff" stroke-width="2.1" paint-order="stroke" stroke-linejoin="miter"/>
<path d="M84.2 661.2L90.8 668.3L84.2 675.4L77.6 668.3Z" fill="#000" stroke="#fff" stroke-width="2.1" paint-order="stroke" stroke-linejoin="miter"/>
<path d="M107.7 633.1L114.3 640.2L107.7 647.3L101.1 640.2Z" fill="#000" stroke="#fff" stroke-width="2.1" paint-order="stroke" stroke-linejoin="miter"/>
<path d="M157.4 610L164 617.1L157.4 624.2L150.8 617.1Z" fill="#000" stroke="#fff" stroke-width="2.1" paint-order="stroke" stroke-linejoin="miter"/>
<path d="M255.7 588.4L262.3 595.5L255.7 602.6L249.1 595.5Z" fill="#000" stroke="#fff" stroke-width="2.1" paint-order="stroke" stroke-linejoin="miter"/>
<rect x="54.3" y="694.55" width="14.6" height="14.9" fill="#000" stroke="#fff" stroke-width="2.1" paint-order="stroke" stroke-linejoin="miter"/>
<rect x="57.1" y="679.75" width="14.6" height="14.9" fill="#000" stroke="#fff" stroke-width="2.1" paint-order="stroke" stroke-linejoin="miter"/>
<rect x="63.5" y="665.95" width="14.6" height="14.9" fill="#000" stroke="#fff" stroke-width="2.1" paint-order="stroke" stroke-linejoin="miter"/>
<rect x="75.8" y="627.55" width="14.6" height="14.9" fill="#000" stroke="#fff" stroke-width="2.1" paint-order="stroke" stroke-linejoin="miter"/>
<rect x="100.4" y="619.25" width="14.6" height="14.9" fill="#000" stroke="#fff" stroke-width="2.1" paint-order="stroke" stroke-linejoin="miter"/>
<rect x="150.1" y="594.05" width="14.6" height="14.9" fill="#000" stroke="#fff" stroke-width="2.1" paint-order="stroke" stroke-linejoin="miter"/>
<rect x="248.4" y="543.85" width="14.6" height="14.9" fill="#000" stroke="#fff" stroke-width="2.1" paint-order="stroke" stroke-linejoin="miter"/>
<rect x="54.4" y="696.5" width="14" height="14" fill="#000" stroke="#fff" stroke-width="2.1" paint-order="stroke" stroke-linejoin="miter"/>
<line x1="301.5" y1="525.2" x2="301.5" y2="724.3" stroke-width="2.3"/>
<line x1="296.5" y1="723.4" x2="301.5" y2="723.4" stroke-width="2.18"/>
<line x1="298.3" y1="706.96" x2="301.5" y2="706.96" stroke-width="2.18"/>
<line x1="296.5" y1="690.52" x2="301.5" y2="690.52" stroke-width="2.18"/>
<line x1="298.3" y1="674.08" x2="301.5" y2="674.08" stroke-width="2.18"/>
<line x1="296.5" y1="657.63" x2="301.5" y2="657.63" stroke-width="2.18"/>
<line x1="298.3" y1="641.19" x2="301.5" y2="641.19" stroke-width="2.18"/>
<line x1="296.5" y1="624.75" x2="301.5" y2="624.75" stroke-width="2.18"/>
<line x1="298.3" y1="608.31" x2="301.5" y2="608.31" stroke-width="2.18"/>
<line x1="296.5" y1="591.87" x2="301.5" y2="591.87" stroke-width="2.18"/>
<line x1="298.3" y1="575.42" x2="301.5" y2="575.42" stroke-width="2.18"/>
<line x1="296.5" y1="558.98" x2="301.5" y2="558.98" stroke-width="2.18"/>
<line x1="298.3" y1="542.54" x2="301.5" y2="542.54" stroke-width="2.18"/>
<line x1="296.5" y1="526.1" x2="301.5" y2="526.1" stroke-width="2.18"/>
<text x="293.3" y="732.2" font-size="17" font-weight="normal" text-anchor="end" stroke="#000" stroke-width="0.75">0</text>
<text x="293.3" y="699.13" font-size="17" font-weight="normal" text-anchor="end" stroke="#000" stroke-width="0.75">10</text>
<text x="293.3" y="666.07" font-size="17" font-weight="normal" text-anchor="end" stroke="#000" stroke-width="0.75">20</text>
<text x="293.3" y="633" font-size="17" font-weight="normal" text-anchor="end" stroke="#000" stroke-width="0.75">30</text>
<text x="293.3" y="599.93" font-size="17" font-weight="normal" text-anchor="end" stroke="#000" stroke-width="0.75">40</text>
<text x="293.3" y="566.87" font-size="17" font-weight="normal" text-anchor="end" stroke="#000" stroke-width="0.75">50</text>
<text x="293.3" y="533.8" font-size="17" font-weight="normal" text-anchor="end" stroke="#000" stroke-width="0.75">60</text>
<line x1="300.6" y1="723.4" x2="500.7" y2="723.4" stroke-width="2.3"/>
<line x1="301.5" y1="723.4" x2="301.5" y2="727.4" stroke-width="2.18"/>
<line x1="321.33" y1="723.4" x2="321.33" y2="727.4" stroke-width="2.18"/>
<line x1="341.16" y1="723.4" x2="341.16" y2="727.4" stroke-width="2.18"/>
<line x1="360.99" y1="723.4" x2="360.99" y2="727.4" stroke-width="2.18"/>
<line x1="380.82" y1="723.4" x2="380.82" y2="727.4" stroke-width="2.18"/>
<line x1="400.65" y1="723.4" x2="400.65" y2="727.4" stroke-width="2.18"/>
<line x1="420.48" y1="723.4" x2="420.48" y2="727.4" stroke-width="2.18"/>
<line x1="440.31" y1="723.4" x2="440.31" y2="727.4" stroke-width="2.18"/>
<line x1="460.14" y1="723.4" x2="460.14" y2="727.4" stroke-width="2.18"/>
<line x1="479.97" y1="723.4" x2="479.97" y2="727.4" stroke-width="2.18"/>
<line x1="499.8" y1="723.4" x2="499.8" y2="727.4" stroke-width="2.18"/>
<text x="305.1" y="749.9" font-size="17" font-weight="normal" text-anchor="middle" stroke="#000" stroke-width="0.75">0</text>
<text x="344.76" y="749.9" font-size="17" font-weight="normal" text-anchor="middle" stroke="#000" stroke-width="0.75">2</text>
<text x="384.42" y="749.9" font-size="17" font-weight="normal" text-anchor="middle" stroke="#000" stroke-width="0.75">4</text>
<text x="424.08" y="749.9" font-size="17" font-weight="normal" text-anchor="middle" stroke="#000" stroke-width="0.75">6</text>
<text x="463.74" y="749.9" font-size="17" font-weight="normal" text-anchor="middle" stroke="#000" stroke-width="0.75">8</text>
<text x="503.4" y="749.9" font-size="17" font-weight="normal" text-anchor="middle" stroke="#000" stroke-width="0.75">10</text>
<text x="306.5" y="535.8" font-size="29.5" font-weight="bold" text-anchor="start" stroke="#000" stroke-width="0.8">F</text>
<text x="401.3" y="763.5" font-size="17.6" text-anchor="middle" stroke="#000" stroke-width="0.75">E/T</text>
<polyline points="305.6,721.9 315,717.15 326.9,710.05 351.5,709.95 400.7,703.5 499.5,679.65" fill="none" stroke-width="2.1" stroke-linejoin="round"/>
<polyline points="305.6,719.3 315,704.4 326.9,701.3 351.2,684.8 400.7,673.8 499.5,641.4" fill="none" stroke-width="2.1" stroke-linejoin="round"/>
<polyline points="305,700 313.9,669.5 327.2,661.8 350.8,638 400.7,603.9 499.5,594.7" fill="none" stroke-width="2.1" stroke-linejoin="round"/>
<polyline points="305.1,695.5 307.7,684.5 313.9,667 326.2,641.5 350.8,608.8 400.7,574 499.5,547.1" fill="none" stroke-width="2.1" stroke-linejoin="round"/>
<circle cx="305.6" cy="719.3" r="6.85" fill="#000" stroke="#fff" stroke-width="2.1" paint-order="stroke" stroke-linejoin="miter"/>
<circle cx="315" cy="704.4" r="6.85" fill="#000" stroke="#fff" stroke-width="2.1" paint-order="stroke" stroke-linejoin="miter"/>
<circle cx="326.9" cy="701.3" r="6.85" fill="#000" stroke="#fff" stroke-width="2.1" paint-order="stroke" stroke-linejoin="miter"/>
<circle cx="351.2" cy="684.8" r="6.85" fill="#000" stroke="#fff" stroke-width="2.1" paint-order="stroke" stroke-linejoin="miter"/>
<circle cx="400.7" cy="673.8" r="6.85" fill="#000" stroke="#fff" stroke-width="2.1" paint-order="stroke" stroke-linejoin="miter"/>
<circle cx="499.5" cy="641.4" r="6.85" fill="#000" stroke="#fff" stroke-width="2.1" paint-order="stroke" stroke-linejoin="miter"/>
<path d="M305.6 715.6L312.3 729.6L298.9 729.6Z" fill="#000" stroke="#fff" stroke-width="2.1" paint-order="stroke" stroke-linejoin="miter"/>
<path d="M315 710.85L321.7 724.85L308.3 724.85Z" fill="#000" stroke="#fff" stroke-width="2.1" paint-order="stroke" stroke-linejoin="miter"/>
<path d="M326.9 703.75L333.6 717.75L320.2 717.75Z" fill="#000" stroke="#fff" stroke-width="2.1" paint-order="stroke" stroke-linejoin="miter"/>
<path d="M351.5 703.65L358.2 717.65L344.8 717.65Z" fill="#000" stroke="#fff" stroke-width="2.1" paint-order="stroke" stroke-linejoin="miter"/>
<path d="M400.7 697.2L407.4 711.2L394 711.2Z" fill="#000" stroke="#fff" stroke-width="2.1" paint-order="stroke" stroke-linejoin="miter"/>
<path d="M499.5 673.35L506.2 687.35L492.8 687.35Z" fill="#000" stroke="#fff" stroke-width="2.1" paint-order="stroke" stroke-linejoin="miter"/>
<path d="M305 692.9L311.6 700L305 707.1L298.4 700Z" fill="#000" stroke="#fff" stroke-width="2.1" paint-order="stroke" stroke-linejoin="miter"/>
<path d="M313.9 662.4L320.5 669.5L313.9 676.6L307.3 669.5Z" fill="#000" stroke="#fff" stroke-width="2.1" paint-order="stroke" stroke-linejoin="miter"/>
<path d="M327.2 654.7L333.8 661.8L327.2 668.9L320.6 661.8Z" fill="#000" stroke="#fff" stroke-width="2.1" paint-order="stroke" stroke-linejoin="miter"/>
<path d="M350.8 630.9L357.4 638L350.8 645.1L344.2 638Z" fill="#000" stroke="#fff" stroke-width="2.1" paint-order="stroke" stroke-linejoin="miter"/>
<path d="M400.7 596.8L407.3 603.9L400.7 611L394.1 603.9Z" fill="#000" stroke="#fff" stroke-width="2.1" paint-order="stroke" stroke-linejoin="miter"/>
<path d="M499.5 587.6L506.1 594.7L499.5 601.8L492.9 594.7Z" fill="#000" stroke="#fff" stroke-width="2.1" paint-order="stroke" stroke-linejoin="miter"/>
<rect x="492.2" y="539.65" width="14.6" height="14.9" fill="#000" stroke="#fff" stroke-width="2.1" paint-order="stroke" stroke-linejoin="miter"/>
<rect x="393.4" y="566.55" width="14.6" height="14.9" fill="#000" stroke="#fff" stroke-width="2.1" paint-order="stroke" stroke-linejoin="miter"/>
<rect x="343.5" y="601.35" width="14.6" height="14.9" fill="#000" stroke="#fff" stroke-width="2.1" paint-order="stroke" stroke-linejoin="miter"/>
<rect x="318.9" y="634.05" width="14.6" height="14.9" fill="#000" stroke="#fff" stroke-width="2.1" paint-order="stroke" stroke-linejoin="miter"/>
<rect x="306.6" y="659.55" width="14.6" height="14.9" fill="#000" stroke="#fff" stroke-width="2.1" paint-order="stroke" stroke-linejoin="miter"/>
<rect x="300.4" y="677.05" width="14.6" height="14.9" fill="#000" stroke="#fff" stroke-width="2.1" paint-order="stroke" stroke-linejoin="miter"/>
<rect x="297.8" y="688.05" width="14.6" height="14.9" fill="#000" stroke="#fff" stroke-width="2.1" paint-order="stroke" stroke-linejoin="miter"/>
</svg>
</body></html>
